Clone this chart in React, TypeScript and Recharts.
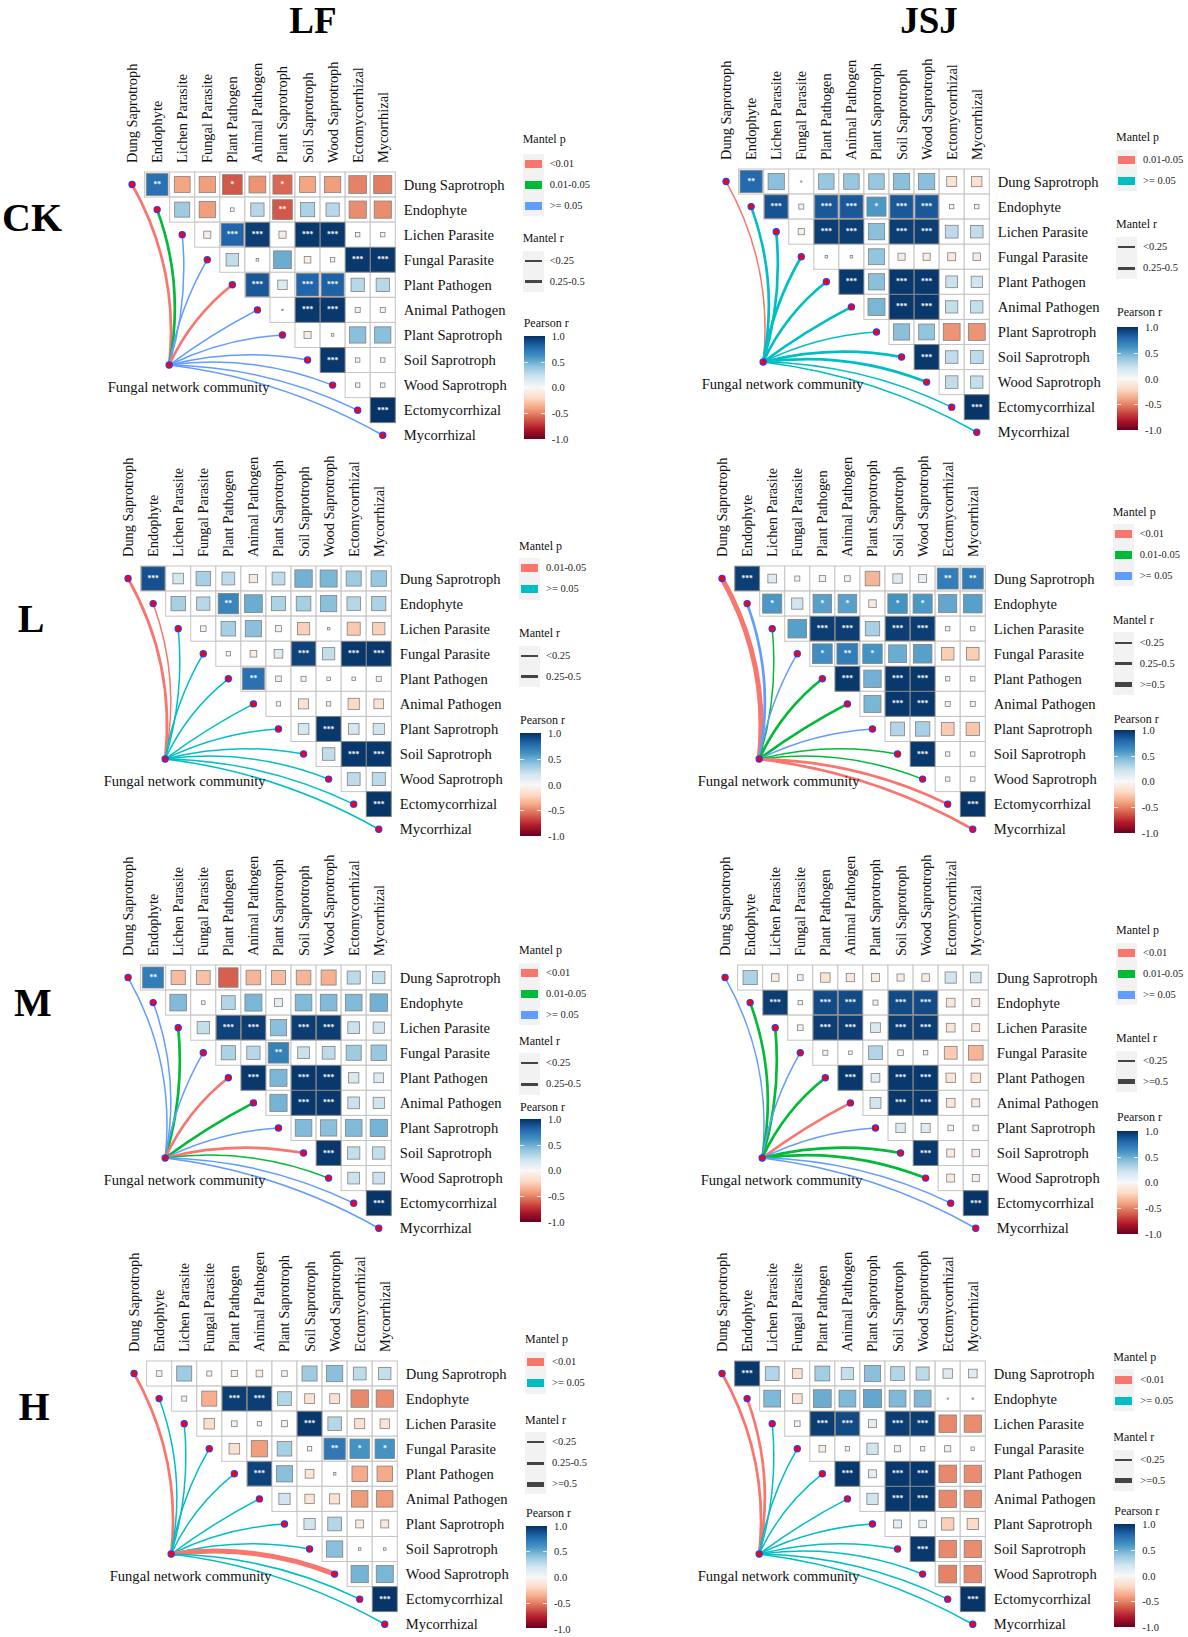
import React from "react";
import { ComposedChart, Line, Scatter, XAxis, YAxis } from "recharts";

const taxa = [
  "Dung Saprotroph", "Endophyte", "Lichen Parasite", "Fungal Parasite", "Plant Pathogen", "Animal Pathogen",
  "Plant Saprotroph", "Soil Saprotroph", "Wood Saprotroph", "Ectomycorrhizal", "Mycorrhizal",
];

// upper triangle of the Pearson r matrix, one row per taxon
const lfCkR = [
  [0.75, -0.4, -0.42, -0.62, -0.45, -0.58, -0.4, -0.42, -0.5, -0.52],
  [0.36, -0.42, 0.02, 0.28, -0.62, 0.32, 0.28, -0.47, -0.47],
  [-0.08, 0.8, 0.95, -0.08, 0.97, 0.97, 0.03, 0.03],
  [0.25, 0.01, 0.5, -0.07, 0.03, 0.97, 0.97],
  [0.85, 0.14, 0.8, 0.82, 0.28, 0.28],
  [0.003, 0.97, 0.97, 0.04, 0.04],
  [-0.08, 0.01, 0.42, 0.42],
  [0.97, 0.03, 0.03],
  [0.03, 0.03],
  [0.99],
];
const lfCkSig = ["2001010000", "000020000", "03303300", "0000033", "303300", "03300", "0000", "300", "00", "3"];
const lfCkP = [0, 1, 2, 2, 0, 2, 2, 2, 2, 2, 2];
const lfCkW = [2, 2, 1, 1, 2, 1, 1, 1, 1, 1, 1];

const jsjCkR = [
  [0.78, 0.42, 0.002, 0.38, 0.38, 0.38, 0.42, 0.42, -0.16, -0.17],
  [0.87, 0.04, 0.85, 0.85, 0.58, 0.85, 0.85, 0.03, 0.03],
  [-0.06, 0.95, 0.95, 0.42, 0.95, 0.95, 0.26, 0.25],
  [0.01, 0.01, 0.4, -0.08, -0.08, -0.1, -0.09],
  [0.97, 0.42, 0.97, 0.97, 0.22, 0.2],
  [0.46, 0.97, 0.97, 0.24, 0.24],
  [0.42, 0.4, -0.45, -0.45],
  [0.97, 0.25, 0.26],
  [0.25, 0.24],
  [0.98],
];
const jsjCkSig = ["2000000000", "303313300", "03303300", "0000000", "303300", "03300", "0000", "300", "00", "3"];
const jsjCkP = [0, 1, 1, 1, 1, 1, 1, 1, 1, 1, 1];
const jsjCkW = [1, 2, 2, 2, 2, 2, 1, 2, 2, 1, 1];

const lfLR = [
  [0.88, 0.18, 0.33, 0.26, -0.11, 0.26, 0.48, 0.46, 0.36, 0.38],
  [0.33, 0.28, 0.66, 0.5, 0.32, 0.34, 0.42, 0.29, 0.32],
  [0.05, 0.34, 0.42, -0.06, -0.24, 0.01, -0.27, -0.24],
  [0.03, -0.07, 0.12, 0.93, 0.24, 0.97, 0.97],
  [0.75, -0.05, 0.04, 0.02, 0.02, 0.04],
  [0.03, -0.16, 0.03, -0.2, -0.15],
  [0.18, 0.97, 0.18, 0.2],
  [0.25, 0.97, 0.97],
  [0.26, 0.27],
  [0.98],
];
const lfLSig = ["3000000000", "002000000", "00000000", "0003033", "200000", "00000", "0300", "033", "00", "3"];
const lfLP = [0, 0, 1, 1, 1, 1, 1, 1, 1, 1, 1];
const lfLW = [2, 1, 1, 1, 1, 1, 1, 1, 1, 1, 1];

const jsjLR = [
  [0.95, 0.12, -0.04, 0.06, 0.05, -0.34, 0.14, 0.1, 0.7, 0.7],
  [0.58, 0.2, 0.55, 0.55, -0.09, 0.6, 0.58, 0.52, 0.55],
  [0.55, 0.95, 0.95, 0.33, 0.95, 0.95, 0.03, 0.03],
  [0.62, 0.7, 0.6, 0.5, 0.55, -0.25, -0.25],
  [0.97, 0.48, 0.97, 0.97, 0.03, 0.03],
  [0.46, 0.97, 0.97, 0.04, 0.04],
  [0.3, 0.33, -0.26, -0.28],
  [0.97, 0.03, 0.03],
  [0.03, 0.03],
  [0.98],
];
const jsjLSig = ["3000000022", "101101100", "03303300", "1210000", "303300", "03300", "0000", "300", "00", "3"];
const jsjLP = [0, 2, 1, 2, 1, 1, 2, 1, 1, 0, 0];
const jsjLW = [3, 2, 1, 1, 2, 2, 1, 1, 1, 2, 2];

const lfMR = [
  [0.7, -0.32, -0.3, -0.6, -0.34, -0.32, -0.34, -0.36, 0.27, 0.24],
  [0.44, 0.02, 0.3, 0.46, 0.1, 0.44, 0.44, 0.44, 0.48],
  [0.24, 0.93, 0.95, 0.42, 0.95, 0.95, 0.22, 0.2],
  [0.32, 0.28, 0.68, 0.22, 0.26, 0.36, 0.38],
  [0.97, 0.46, 0.97, 0.97, 0.17, 0.15],
  [0.47, 0.97, 0.97, 0.22, 0.2],
  [0.44, 0.42, 0.44, 0.47],
  [0.97, 0.24, 0.24],
  [0.22, 0.22],
  [0.98],
];
const lfMSig = ["2000000000", "000000000", "03303300", "0020000", "303300", "03300", "0000", "300", "00", "3"];
const lfMP = [2, 2, 1, 2, 0, 1, 2, 0, 1, 2, 2];
const lfMW = [1, 1, 2, 1, 2, 2, 1, 2, 1, 1, 1];

const jsjMR = [
  [0.32, -0.09, 0.05, -0.14, -0.11, -0.1, -0.08, -0.09, 0.2, 0.18],
  [0.95, 0.03, 0.9, 0.9, 0.04, 0.9, 0.9, -0.12, -0.1],
  [0.05, 0.95, 0.95, 0.15, 0.95, 0.95, -0.12, -0.1],
  [0.04, 0.02, 0.3, 0.05, 0.03, -0.26, -0.34],
  [0.97, 0.12, 0.97, 0.97, -0.14, -0.14],
  [0.19, 0.97, 0.97, -0.12, -0.1],
  [0.14, 0.13, 0.05, 0.05],
  [0.97, -0.1, -0.09],
  [-0.1, -0.08],
  [0.98],
];
const jsjMSig = ["0000000000", "303303300", "03303300", "0000000", "303300", "03300", "0000", "300", "00", "3"];
const jsjMP = [2, 1, 1, 2, 1, 0, 2, 1, 1, 2, 2];
const jsjMW = [1, 2, 2, 1, 2, 2, 1, 2, 2, 1, 1];

const lfHR = [
  [-0.05, 0.36, 0.04, -0.06, -0.07, 0.05, 0.36, 0.42, 0.26, 0.24],
  [0.04, -0.36, 0.95, 0.95, 0.3, -0.15, -0.15, -0.48, -0.47],
  [-0.18, 0.05, 0.03, 0.06, 0.97, 0.29, -0.16, -0.14],
  [-0.18, -0.42, 0.34, 0.03, 0.72, 0.6, 0.6],
  [0.93, 0.42, -0.12, 0.01, -0.38, -0.38],
  [0.2, -0.14, -0.16, -0.43, -0.43],
  [0.2, 0.3, -0.1, -0.1],
  [0.42, 0.01, 0.01],
  [0.47, 0.46],
  [0.98],
];
const lfHSig = ["0000000000", "003300000", "00003000", "0000211", "300000", "00000", "0000", "000", "00", "3"];
const lfHP = [0, 1, 1, 1, 1, 1, 1, 1, 0, 1, 1];
const lfHW = [2, 1, 1, 1, 1, 1, 1, 1, 3, 1, 1];

const jsjHR = [
  [0.97, 0.3, -0.15, 0.35, 0.24, 0.42, 0.3, 0.27, 0.14, 0.12],
  [0.45, -0.15, 0.5, 0.45, 0.52, 0.45, 0.45, 0.002, 0.003],
  [0.05, 0.95, 0.9, 0.1, 0.95, 0.95, -0.48, -0.47],
  [-0.07, 0.03, 0.2, -0.06, 0.03, 0.06, 0.02],
  [0.97, 0.1, 0.97, 0.97, -0.48, -0.47],
  [0.2, 0.97, 0.97, -0.48, -0.47],
  [0.1, 0.09, -0.24, -0.2],
  [0.97, -0.48, -0.47],
  [-0.5, -0.48],
  [0.98],
];
const jsjHSig = ["3000000000", "000000000", "03303300", "0000000", "303300", "03300", "0000", "300", "00", "3"];
const jsjHP = [0, 0, 1, 1, 1, 1, 1, 1, 1, 1, 1];
const jsjHW = [2, 2, 1, 1, 1, 1, 1, 1, 1, 1, 1];

const pThree = ["<0.01", "0.01-0.05", ">= 0.05"];
const pMid = ["0.01-0.05", ">= 0.05"];
const pLow = ["<0.01", ">= 0.05"];
const rTwo = ["<0.25", "0.25-0.5"];
const rThree = ["<0.25", "0.25-0.5", ">=0.5"];
const rEnds = ["<0.25", ">=0.5"];
const barLabels = ["1.0", "0.5", "0.0", "-0.5", "-1.0"];

const rdBu = ["#67001F", "#B2182B", "#D6604D", "#F4A582", "#FDDBC7", "#F7F7F7", "#D1E5F0", "#92C5DE", "#4393C3", "#2166AC", "#053061"];
const hue3 = ["#F8766D", "#00BA38", "#619CFF"];
const hue2 = ["#F8766D", "#00BFC4"];
const rLineWidth: Record<string, number> = { "<0.25": 2, "0.25-0.5": 3, ">=0.5": 5 };

const FONT = "'Liberation Serif', 'Times New Roman', serif";
const STEP = 25.07;
const AXIS_H = 115;
const AXIS_W = 135;
const HUB = { x: 1.48, y: 7.2 };
// how far each link bows away from the straight line (share of its length)
const linkBend = [0.16, 0.14, 0.1, -0.09, -0.12, -0.04, -0.1, -0.11, -0.13, -0.11, -0.1];
const linkWidth = [0, 1.5, 2.7, 5];

const hex = (c: string) => [1, 3, 5].map((i) => parseInt(c.slice(i, i + 2), 16));
const rColor = (r: number) => {
  const t = ((Math.max(-1, Math.min(1, r)) + 1) / 2) * (rdBu.length - 1);
  const i = Math.min(Math.floor(t), rdBu.length - 2);
  const a = hex(rdBu[i]);
  const b = hex(rdBu[i + 1]);
  const c = a.map((v, k) => Math.round(v + (b[k] - v) * (t - i)));
  return `rgb(${c[0]},${c[1]},${c[2]})`;
};

const bentCurve = (bend: number) => (context: any) => {
  let pts: number[][] = [];
  return {
    areaStart() {},
    areaEnd() {},
    lineStart() {
      pts = [];
    },
    point(x: number, y: number) {
      pts.push([+x, +y]);
    },
    lineEnd() {
      const [a, b] = pts;
      const dx = b[0] - a[0];
      const dy = b[1] - a[1];
      context.moveTo(a[0], a[1]);
      context.quadraticCurveTo((a[0] + b[0]) / 2 - dy * bend, (a[1] + b[1]) / 2 + dx * bend, b[0], b[1]);
    },
  };
};

const buildCells = (rows: number[][], sig: string[]) =>
  rows.flatMap((row, i) => row.map((r, k) => ({ x: i + 1 + k, y: i, r, sig: Number(sig[i][k]) })));

const GridCell = (props: any) => (
  <rect x={props.cx - STEP / 2} y={props.cy - STEP / 2} width={STEP} height={STEP} fill="#fff" stroke="#c4c4c4" strokeWidth={1} />
);

const ColorCell = (props: any) => {
  const { cx, cy, payload } = props;
  const side = Math.sqrt(Math.abs(payload.r)) * STEP;
  return (
    <g>
      <rect x={cx - side / 2} y={cy - side / 2} width={side} height={side} fill={rColor(payload.r)} stroke="#808080" strokeWidth={0.8} />
      {payload.sig > 0 && (
        <text x={cx} y={cy + 2.6} textAnchor="middle" fontFamily={FONT} fontWeight="bold" fontSize={7.5} fill="#fff">
          {"*".repeat(payload.sig)}
        </text>
      )}
    </g>
  );
};

const NodeDot = (props: any) => <circle cx={props.cx} cy={props.cy} r={3.1} fill="#f00" stroke="#2a3cff" strokeWidth={1.2} />;

const HubDot = (props: any) => (
  <g>
    <text x={props.cx + 19.5} y={props.cy + 22} textAnchor="middle" dominantBaseline="central" fontFamily={FONT} fontSize={14.6} fill="#111">
      Fungal network community
    </text>
    <NodeDot {...props} />
  </g>
);

const TopTick = (props: any) => (
  <text
    transform={`translate(${props.x},${props.y - 7}) rotate(-90)`}
    textAnchor="start"
    dominantBaseline="central"
    fontFamily={FONT}
    fontSize={14.4}
    fill="#111"
  >
    {taxa[props.payload.value]}
  </text>
);

const RightTick = (props: any) => (
  <text x={props.x + 6.5} y={props.y} textAnchor="start" dominantBaseline="central" fontFamily={FONT} fontSize={14.6} fill="#111">
    {taxa[props.payload.value]}
  </text>
);

const tickIdx = taxa.map((_, i) => i);

const Heatmap = ({ p }: { p: any }) => {
  const cells = buildCells(p.r, p.sig);
  const palette = p.pLabels.length === 3 ? hue3 : hue2;
  const targets = tickIdx.map((i) => ({ x: i, y: i }));
  return (
    <div style={{ position: "absolute", left: p.x - STEP, top: p.y - STEP / 2 - AXIS_H }}>
      <ComposedChart width={11.5 * STEP + AXIS_W} height={AXIS_H + 11 * STEP} margin={{ top: 0, right: 0, bottom: 0, left: 0 }}>
        <XAxis
          type="number"
          dataKey="x"
          orientation="top"
          domain={[-1, 10.5]}
          ticks={tickIdx}
          interval={0}
          height={AXIS_H}
          axisLine={false}
          tickLine={false}
          tickSize={0}
          tick={<TopTick />}
        />
        <YAxis
          type="number"
          dataKey="y"
          orientation="right"
          reversed
          domain={[-0.5, 10.5]}
          ticks={tickIdx}
          interval={0}
          width={AXIS_W}
          axisLine={false}
          tickLine={false}
          tickSize={0}
          tick={<RightTick />}
        />
        <Scatter data={cells} shape={<GridCell />} isAnimationActive={false} />
        <Scatter data={cells} shape={<ColorCell />} isAnimationActive={false} />
        {targets.map((t, i) => (
          <Line
            key={taxa[i]}
            data={[HUB, t]}
            dataKey="y"
            type={bentCurve(linkBend[i]) as any}
            stroke={palette[p.linkP[i]]}
            strokeWidth={linkWidth[p.linkW[i]]}
            dot={false}
            activeDot={false}
            isAnimationActive={false}
          />
        ))}
        <Scatter data={targets} shape={<NodeDot />} isAnimationActive={false} />
        <Scatter data={[HUB]} shape={<HubDot />} isAnimationActive={false} />
      </ComposedChart>
    </div>
  );
};

const abs = (left: number, top: number, extra: any = {}) => ({ position: "absolute", left, top, lineHeight: 1, whiteSpace: "nowrap", ...extra });
const centerY = { transform: "translateY(-50%)" };

const Key = ({ p }: { p: any }) => {
  const l = p.key;
  const palette = p.pLabels.length === 3 ? hue3 : hue2;
  const title = (text: string, y: number, dx = 0) => (
    <div style={abs(l.x + dx, y, { ...centerY, fontSize: 12, color: "#111" }) as any}>{text}</div>
  );
  const label = (text: string, x: number, y: number) => (
    <div key={text} style={abs(x, y, { ...centerY, fontSize: 10.5, color: "#222" }) as any}>{text}</div>
  );
  const nP = p.pLabels.length;
  const nR = p.rLabels.length;
  return (
    <>
      {title("Mantel p", l.pT)}
      <div style={abs(l.x, l.pY - 10.5, { width: 21, height: nP * 20.9, background: "#f2f2f2" }) as any} />
      {p.pLabels.map((t: string, i: number) => (
        <React.Fragment key={t}>
          <div style={abs(l.x + 2, l.pY + i * 20.9 - 4, { width: 17, height: 8, background: palette[i] }) as any} />
          {label(t, l.x + 27, l.pY + i * 20.9)}
        </React.Fragment>
      ))}
      {title("Mantel r", l.rT)}
      <div style={abs(l.x, l.rY - 10.5, { width: 21, height: nR * 20.9, background: "#f2f2f2" }) as any} />
      {p.rLabels.map((t: string, i: number) => (
        <React.Fragment key={t}>
          <div style={abs(l.x + 2, Math.round(l.rY + i * 20.9 - rLineWidth[t] / 2), { width: 17, height: rLineWidth[t], background: "#444" }) as any} />
          {label(t, l.x + 27, l.rY + i * 20.9)}
        </React.Fragment>
      ))}
      {title("Pearson r", l.barT, 1)}
      <div
        style={abs(l.x + 1, l.bar, {
          width: 21,
          height: 102.5,
          background: `linear-gradient(to top, ${rdBu.join(",")})`,
        }) as any}
      />
      {barLabels.map((t, i) => (
        <React.Fragment key={t}>
          {i > 0 && i < 4 && (
            <>
              <div style={abs(l.x + 1, l.bar + i * 25.6, { width: 4, height: 1, background: "#ffffffcc" }) as any} />
              <div style={abs(l.x + 18, l.bar + i * 25.6, { width: 4, height: 1, background: "#ffffffcc" }) as any} />
            </>
          )}
          {label(t, l.x + 29, l.bar + 1 + i * 25.7)}
        </React.Fragment>
      ))}
    </>
  );
};

const panels = [
  { x: 131.7, y: 185, r: lfCkR, sig: lfCkSig, linkP: lfCkP, linkW: lfCkW, pLabels: pThree, rLabels: rTwo, key: { x: 522.7, pT: 139, pY: 164, rT: 238.3, rY: 261, barT: 323, bar: 336 } },
  { x: 725.7, y: 181.7, r: jsjCkR, sig: jsjCkSig, linkP: jsjCkP, linkW: jsjCkW, pLabels: pMid, rLabels: rTwo, key: { x: 1116, pT: 137.3, pY: 160, rT: 224.3, rY: 247.3, barT: 312.3, bar: 327.3 } },
  { x: 128.3, y: 578.3, r: lfLR, sig: lfLSig, linkP: lfLP, linkW: lfLW, pLabels: pMid, rLabels: rTwo, key: { x: 519, pT: 545.7, pY: 568.3, rT: 633.3, rY: 656, barT: 720, bar: 733.3 } },
  { x: 722, y: 578.3, r: jsjLR, sig: jsjLSig, linkP: jsjLP, linkW: jsjLW, pLabels: pThree, rLabels: rThree, key: { x: 1112.7, pT: 512, pY: 534.3, rT: 620, rY: 642.7, barT: 719, bar: 730 } },
  { x: 128.3, y: 977.7, r: lfMR, sig: lfMSig, linkP: lfMP, linkW: lfMW, pLabels: pThree, rLabels: rTwo, key: { x: 519, pT: 950.3, pY: 973.3, rT: 1040.7, rY: 1063.3, barT: 1106.7, bar: 1119 } },
  { x: 725, y: 977.7, r: jsjMR, sig: jsjMSig, linkP: jsjMP, linkW: jsjMW, pLabels: pThree, rLabels: rEnds, key: { x: 1116, pT: 930, pY: 953, rT: 1037.7, rY: 1061, barT: 1117.3, bar: 1131 } },
  { x: 134, y: 1374, r: lfHR, sig: lfHSig, linkP: lfHP, linkW: lfHW, pLabels: pLow, rLabels: rThree, key: { x: 525, pT: 1339.3, pY: 1362.3, rT: 1420, rY: 1442.3, barT: 1512.7, bar: 1525.7 } },
  { x: 722.3, y: 1374, r: jsjHR, sig: jsjHSig, linkP: jsjHP, linkW: jsjHW, pLabels: pLow, rLabels: rEnds, key: { x: 1113.3, pT: 1356.7, pY: 1379.7, rT: 1437.3, rY: 1460, barT: 1511, bar: 1524.3 } },
];

const headings = [
  { text: "LF", x: 313, y: 19.5, size: 37 },
  { text: "JSJ", x: 929, y: 19.5, size: 37 },
  { text: "CK", x: 32, y: 218, size: 40 },
  { text: "L", x: 31, y: 619, size: 40 },
  { text: "M", x: 33, y: 1003, size: 40 },
  { text: "H", x: 34, y: 1407, size: 40 },
];

export default function App() {
  return (
    <div style={{ position: "absolute", left: 0, top: 0, width: 1188, height: 1637, background: "#fff", fontFamily: FONT, overflow: "hidden" }}>
      {panels.map((p, i) => (
        <React.Fragment key={i}>
          <Heatmap p={p} />
          <Key p={p} />
        </React.Fragment>
      ))}
      {headings.map((h) => (
        <div
          key={h.text}
          style={{ position: "absolute", left: h.x, top: h.y, transform: "translate(-50%,-50%)", fontWeight: "bold", fontSize: h.size, lineHeight: 1, color: "#000" }}
        >
          {h.text}
        </div>
      ))}
    </div>
  );
}
